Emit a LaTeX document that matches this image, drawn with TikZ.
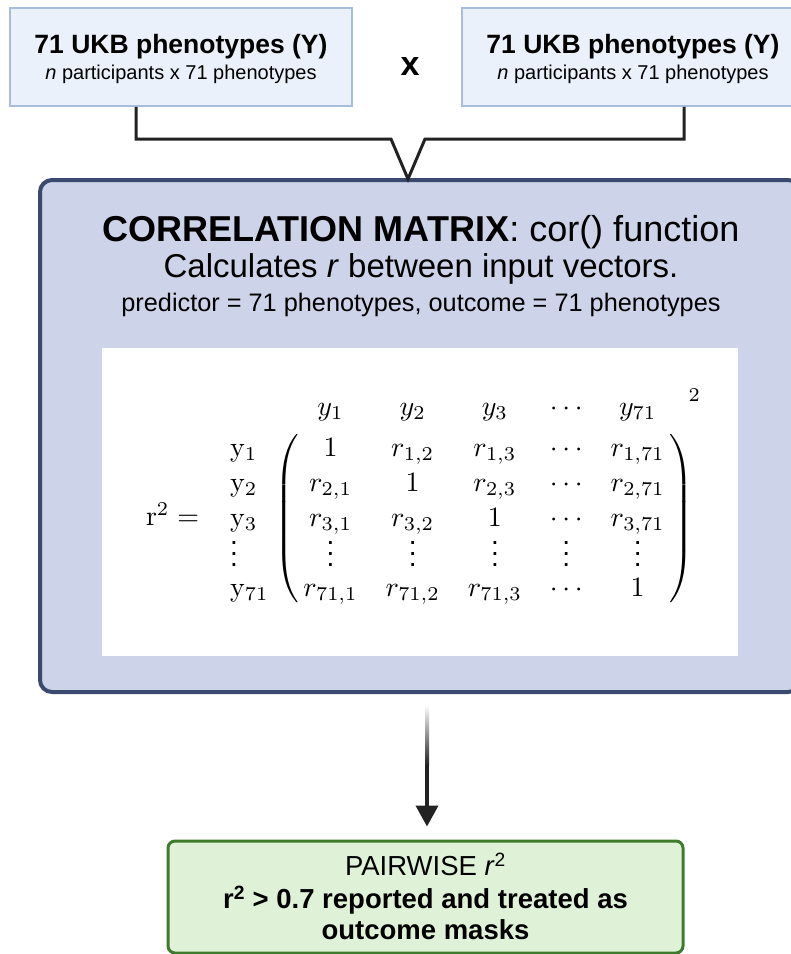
\documentclass[tikz,border=0pt]{standalone}
\usepackage[no-math]{fontspec}
\setmainfont{Liberation Sans}
\usepackage{tikz}
\usetikzlibrary{positioning,arrows.meta}
\definecolor{inblue}{RGB}{234,241,251}
\definecolor{inedge}{RGB}{168,188,220}
\definecolor{corrfill}{RGB}{205,211,232}
\definecolor{corredge}{RGB}{58,74,110}
\definecolor{outfill}{RGB}{223,242,216}
\definecolor{outedge}{RGB}{63,123,44}
\definecolor{linedark}{RGB}{34,34,34}
\newcommand{\lowvdots}{\raisebox{-2pt}{$\vdots$}}

\begin{document}
\begin{tikzpicture}[x=1pt, y=-1pt,
    inbox/.style={rectangle, draw=inedge, line width=1.5pt, fill=inblue,
                  minimum width=342pt, minimum height=98pt, inner sep=0pt},
    intitle/.style={font=\fontsize{26.5}{32}\selectfont\bfseries, inner sep=0pt},
    insub/.style={font=\fontsize{20}{24}\selectfont, inner sep=0pt},
    corrbox/.style={rectangle, rounded corners=12pt, draw=corredge, line width=4pt, fill=corrfill,
                    minimum width=760pt, minimum height=512pt},
    panel/.style={rectangle, fill=white, minimum width=636pt, minimum height=308pt},
    outbox/.style={rectangle, rounded corners=7pt, draw=outedge, line width=3pt, fill=outfill,
                   minimum width=515pt, minimum height=112pt},
    link/.style={draw=linedark, line width=3pt},
    flow/.style={-{Triangle[width=22pt,length=21pt]}, draw=linedark, line width=4pt}
  ]
    \useasboundingbox (0,0) rectangle (791,954);

    % inputs
    \node[inbox] (inL) at (181,57) {};
    \node[intitle] (inLtitle) at (181,47) {71 UKB phenotypes (Y)};
    \node[insub]   (inLsub)   at (181,74) {\textit{n} participants x 71 phenotypes};
    \node[inbox] (inR) at (633,57) {};
    \node[intitle] (inRtitle) at (633,47) {71 UKB phenotypes (Y)};
    \node[insub]   (inRsub)   at (633,74) {\textit{n} participants x 71 phenotypes};
    \node[font=\fontsize{34}{40}\selectfont\bfseries] (times) at (410,67) {x};

    % correlation step
    \node[corrbox] (corr) at (420,436) {};
    \node[font=\fontsize{36}{42}\selectfont] (corrtitle) at (421,232)
      {\textbf{CORRELATION MATRIX}: cor() function};
    \node[font=\fontsize{33}{40}\selectfont] (corrcalc) at (421,269)
      {Calculates \textit{r} between input vectors.};
    \node[font=\fontsize{25.3}{30}\selectfont] (corrvars) at (421,305)
      {predictor = 71 phenotypes, outcome = 71 phenotypes};
    \node[panel] (panel) at (420,502) {};
    \node[scale=2.8] (rmat) at (420,499) {\baselineskip=12.5pt\lineskiplimit=-100pt\lineskip=0pt
      $\mathrm{r}^2 =\;\; \bordermatrix{
        & y_1 & y_2 & y_3 & \cdots & y_{71}\cr
      \mathrm{y}_1 & 1 & r_{1,2} & r_{1,3} & \cdots & r_{1,71}\cr
      \mathrm{y}_2 & r_{2,1} & 1 & r_{2,3} & \cdots & r_{2,71}\cr
      \mathrm{y}_3 & r_{3,1} & r_{3,2} & 1 & \cdots & r_{3,71}\cr
      \lowvdots & \lowvdots & \lowvdots & \lowvdots & \lowvdots & \lowvdots\cr
      \mathrm{y}_{71} & r_{71,1} & r_{71,2} & r_{71,3} & \cdots & 1\cr}$};
    \node[scale=2.8, inner sep=0pt] (rsq) at (695,400) {$^2$};

    % output
    \node[outbox] (pair) at (425.5,897) {};
    \node[font=\fontsize{27.5}{33}\selectfont] (pairtitle) at (425.5,864) {PAIRWISE \textit{r}\textsuperscript{2}};
    \node[font=\fontsize{27.5}{31}\selectfont\bfseries, align=center] (pairtext) at (425.5,913)
      {r\textsuperscript{2} > 0.7 reported and treated as\\outcome masks};

    % connectors
    \coordinate (vtip) at (408,179);
    \draw[link] ([xshift=-45pt]inL.south) |- ([xshift=-17pt,yshift=40pt]vtip) -- (vtip)
      -- ([xshift=17pt,yshift=40pt]vtip) -| ([xshift=51pt]inR.south);
    \draw[flow, shorten <=13pt, shorten >=13pt] (corr.south -| 427,0) -- (pair.north -| 427,0);
    \shade[top color=white, bottom color=linedark] (425,705) rectangle (429,765);
  \end{tikzpicture}
\end{document}
